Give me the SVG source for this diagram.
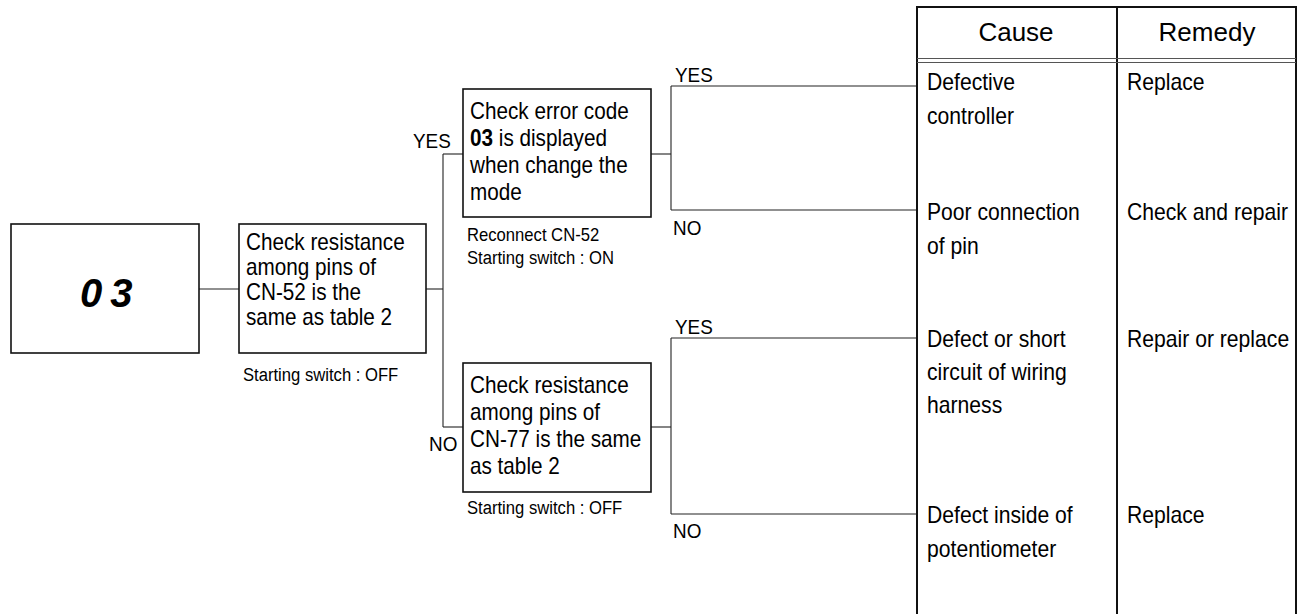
<svg xmlns="http://www.w3.org/2000/svg" width="1304" height="614" viewBox="0 0 1304 614">
<style>
  .box { fill: #fff; stroke: #111; stroke-width: 1.6; }
  .conn line { stroke: #222; stroke-width: 1.1; fill: none; }
  .t { font-family: "Liberation Sans", Arial, sans-serif; font-size: 23px; fill: #000; }
  .s { font-family: "Liberation Sans", Arial, sans-serif; font-size: 18.5px; fill: #000; }
  .lbl { font-family: "Liberation Sans", Arial, sans-serif; font-size: 21px; fill: #000; }
  .hdr { font-family: "Liberation Sans", Arial, sans-serif; font-size: 26px; fill: #000; text-anchor: middle; }
  .tbl { stroke: #111; stroke-width: 2; fill: none; }
  .dbl { stroke: #555; stroke-width: 1; }
  .code { font-family: "Liberation Sans", Arial, sans-serif; font-size: 40px; font-weight: bold; font-style: italic; letter-spacing: 8px; fill: #000; }
</style>
<rect width="1304" height="614" fill="#fff"/>

<g id="connectors" class="conn">
  <line x1="199" y1="289" x2="239" y2="289"/>
  <line x1="426" y1="289" x2="443" y2="289"/>
  <line x1="443" y1="154" x2="443" y2="427"/>
  <line x1="443" y1="154" x2="463" y2="154"/>
  <line x1="443" y1="427" x2="463" y2="427"/>
  <line x1="651" y1="154" x2="671" y2="154"/>
  <line x1="671" y1="86" x2="671" y2="210"/>
  <line x1="671" y1="86" x2="917" y2="86"/>
  <line x1="671" y1="210" x2="917" y2="210"/>
  <line x1="651" y1="427" x2="671" y2="427"/>
  <line x1="671" y1="338" x2="671" y2="514"/>
  <line x1="671" y1="338" x2="917" y2="338"/>
  <line x1="671" y1="514" x2="917" y2="514"/>
</g>

<g id="labels">
  <text class="lbl" transform="matrix(0.9 0 0 1 413 0)" y="148">YES</text>
  <text class="lbl" transform="matrix(0.9 0 0 1 429 0)" y="451">NO</text>
  <text class="lbl" transform="matrix(0.9 0 0 1 675 0)" y="82">YES</text>
  <text class="lbl" transform="matrix(0.9 0 0 1 673 0)" y="235">NO</text>
  <text class="lbl" transform="matrix(0.9 0 0 1 675 0)" y="334">YES</text>
  <text class="lbl" transform="matrix(0.9 0 0 1 673 0)" y="538">NO</text>
</g>

<g id="node-code">
  <rect class="box" x="11" y="224" width="188" height="129"/>
  <text class="code" x="80" y="307">03</text>
</g>

<g id="node-check-cn52">
  <rect class="box" x="239" y="224" width="187" height="129"/>
  <text class="t" transform="matrix(0.9 0 0 1 246 0)">
    <tspan x="0" y="250">Check resistance</tspan>
    <tspan x="0" y="275">among pins of</tspan>
    <tspan x="0" y="300">CN-52 is the</tspan>
    <tspan x="0" y="325">same as table 2</tspan>
  </text>
  <text class="s" transform="matrix(0.9 0 0 1 243 0)" y="381">Starting switch : OFF</text>
</g>

<g id="node-check-error">
  <rect class="box" x="463" y="89" width="188" height="128"/>
  <text class="t" transform="matrix(0.9 0 0 1 470 0)">
    <tspan x="0" y="119">Check error code</tspan>
    <tspan x="0" y="146"><tspan font-weight="bold">03</tspan> is displayed</tspan>
    <tspan x="0" y="173">when change the</tspan>
    <tspan x="0" y="200">mode</tspan>
  </text>
  <text class="s" transform="matrix(0.9 0 0 1 467 0)">
    <tspan x="0" y="241">Reconnect CN-52</tspan>
    <tspan x="0" y="264">Starting switch : ON</tspan>
  </text>
</g>

<g id="node-check-cn77">
  <rect class="box" x="463" y="363" width="188" height="129"/>
  <text class="t" transform="matrix(0.9 0 0 1 470 0)">
    <tspan x="0" y="393">Check resistance</tspan>
    <tspan x="0" y="420">among pins of</tspan>
    <tspan x="0" y="447">CN-77 is the same</tspan>
    <tspan x="0" y="474">as table 2</tspan>
  </text>
  <text class="s" transform="matrix(0.9 0 0 1 467 0)" y="514">Starting switch : OFF</text>
</g>

<g id="table">
  <line class="tbl" x1="917" y1="7" x2="1296" y2="7"/>
  <line class="tbl" x1="917" y1="6" x2="917" y2="614"/>
  <line class="tbl" x1="1117" y1="6" x2="1117" y2="614"/>
  <line class="tbl" x1="1296" y1="6" x2="1296" y2="614"/>
  <line class="dbl" x1="917" y1="58.5" x2="1296" y2="58.5"/>
  <line class="dbl" x1="917" y1="62.5" x2="1296" y2="62.5"/>
  <text class="hdr" x="1016" y="41">Cause</text>
  <text class="hdr" x="1207" y="41">Remedy</text>
</g>

<g id="row-1">
  <text class="t" transform="matrix(0.92 0 0 1 927 0)"><tspan x="0" y="90">Defective</tspan><tspan x="0" y="124">controller</tspan></text>
  <text class="t" transform="matrix(0.92 0 0 1 1127 0)" y="90">Replace</text>
</g>
<g id="row-2">
  <text class="t" transform="matrix(0.92 0 0 1 927 0)"><tspan x="0" y="220">Poor connection</tspan><tspan x="0" y="254">of pin</tspan></text>
  <text class="t" transform="matrix(0.92 0 0 1 1127 0)" y="220">Check and repair</text>
</g>
<g id="row-3">
  <text class="t" transform="matrix(0.92 0 0 1 927 0)"><tspan x="0" y="347">Defect or short</tspan><tspan x="0" y="380">circuit of wiring</tspan><tspan x="0" y="413">harness</tspan></text>
  <text class="t" transform="matrix(0.92 0 0 1 1127 0)" y="347">Repair or replace</text>
</g>
<g id="row-4">
  <text class="t" transform="matrix(0.92 0 0 1 927 0)"><tspan x="0" y="523">Defect inside of</tspan><tspan x="0" y="557">potentiometer</tspan></text>
  <text class="t" transform="matrix(0.92 0 0 1 1127 0)" y="523">Replace</text>
</g>
</svg>
